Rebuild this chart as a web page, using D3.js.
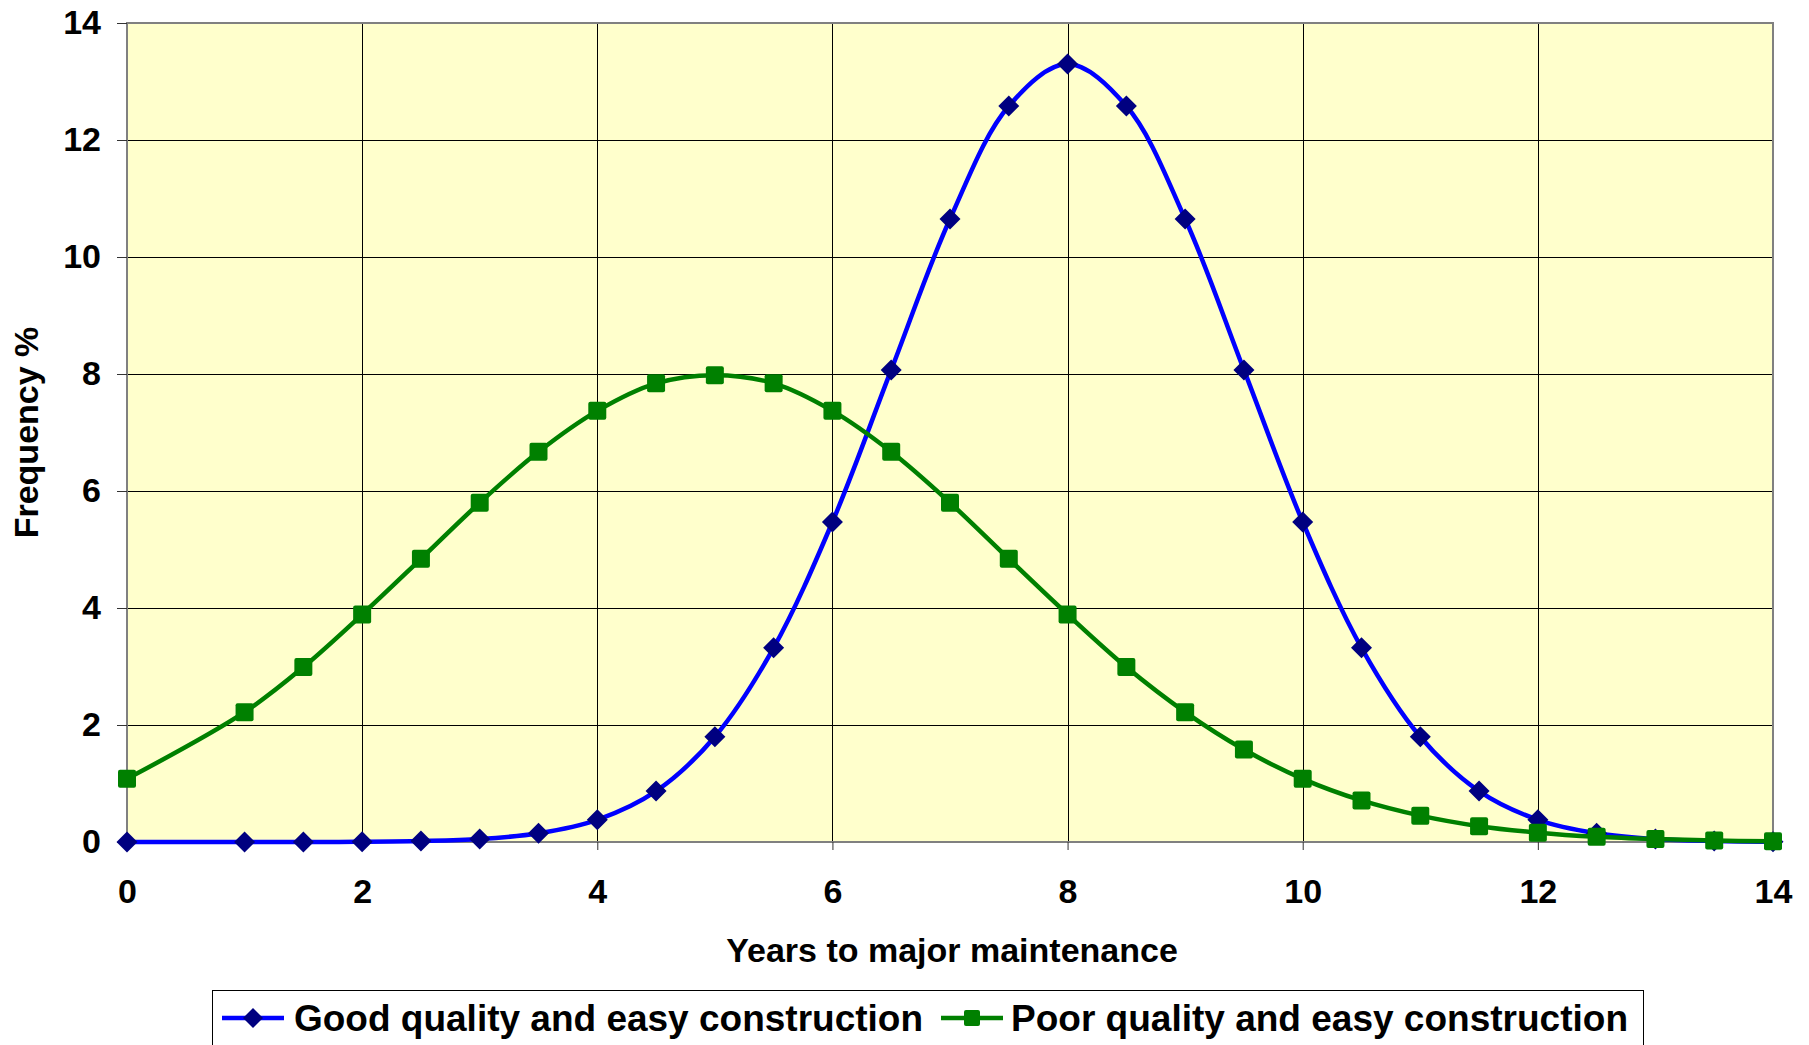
<!DOCTYPE html>
<html>
<head>
<meta charset="utf-8">
<script src="https://cdn.jsdelivr.net/npm/d3@7"></script>
<style>
  body { margin: 0; background: #fff; }
  svg { display: block; font-family: "Liberation Sans", Arial, sans-serif; font-weight: bold; }
</style>
</head>
<body>
<svg id="chart" width="1809" height="1045"></svg>
<script>
// Years to major maintenance (no point at 0.5)
const years = [0, 1, 1.5, 2, 2.5, 3, 3.5, 4, 4.5, 5, 5.5, 6, 6.5, 7, 7.5, 8,
  8.5, 9, 9.5, 10, 10.5, 11, 11.5, 12, 12.5, 13, 13.5, 14];

// Frequency %
const goodEasy = [0, 0.0002, 0.001, 0.004, 0.016, 0.05, 0.15, 0.38, 0.87, 1.80,
  3.32, 5.47, 8.07, 10.65, 12.58, 13.30, 12.58, 10.65, 8.07, 5.47,
  3.32, 1.80, 0.87, 0.38, 0.15, 0.05, 0.016, 0.004];
const poorEasy = [1.08, 2.22, 2.99, 3.89, 4.84, 5.80, 6.67, 7.37, 7.84, 7.98,
  7.84, 7.37, 6.67, 5.80, 4.84, 3.89, 2.99, 2.22, 1.58, 1.08,
  0.71, 0.45, 0.27, 0.16, 0.09, 0.05, 0.025, 0.012];

const xTicks = [0, 2, 4, 6, 8, 10, 12, 14];
const yTicks = [0, 2, 4, 6, 8, 10, 12, 14];

const seriesNames = ["Good quality and easy construction", "Poor quality and easy construction"];

const svg = d3.select("#chart");

// plot area
const plot = { left: 127, right: 1773, top: 23, bottom: 842 };

const x = d3.scaleLinear().domain([0, 14]).range([plot.left, plot.right]);
const y = d3.scaleLinear().domain([0, 14]).range([plot.bottom, plot.top]);

svg.append("rect")
  .attr("x", plot.left).attr("y", plot.top)
  .attr("width", plot.right - plot.left).attr("height", plot.bottom - plot.top)
  .attr("fill", "#ffffcc");

// gridlines
const grid = svg.append("g").attr("stroke", "#000").attr("stroke-width", 1);
grid.selectAll("line.h").data(yTicks.slice(1, -1)).join("line")
  .attr("class", "h")
  .attr("x1", plot.left).attr("x2", plot.right)
  .attr("y1", d => Math.round(y(d)) + 0.5).attr("y2", d => Math.round(y(d)) + 0.5);
grid.selectAll("line.v").data(xTicks.slice(1, -1)).join("line")
  .attr("class", "v")
  .attr("y1", plot.top).attr("y2", plot.bottom)
  .attr("x1", d => Math.round(x(d)) + 0.5).attr("x2", d => Math.round(x(d)) + 0.5);

// plot border
svg.append("rect")
  .attr("x", plot.left).attr("y", plot.top)
  .attr("width", plot.right - plot.left).attr("height", plot.bottom - plot.top)
  .attr("fill", "none").attr("stroke", "#808080").attr("stroke-width", 2);

// axes
const axisY = svg.append("g")
  .attr("transform", `translate(${plot.left},0)`)
  .call(d3.axisLeft(y).tickValues(yTicks).tickSize(10).tickPadding(16));
const axisX = svg.append("g")
  .attr("transform", `translate(0,${plot.bottom})`)
  .call(d3.axisBottom(x).tickValues(xTicks).tickSize(8).tickPadding(29));

[axisY, axisX].forEach(g => {
  g.select(".domain").remove();
  g.selectAll(".tick line").attr("stroke", "#333");
  g.selectAll(".tick text")
    .attr("fill", "#000")
    .style("font-size", "34px")
    .style("font-family", "'Liberation Sans', Arial, sans-serif")
    .style("font-weight", "bold");
});

// series
const line = d3.line()
  .x(d => x(d[0]))
  .y(d => y(d[1]))
  .curve(d3.curveCatmullRom.alpha(0.5));

const goodPts = years.map((d, i) => [d, goodEasy[i]]);
const poorPts = years.map((d, i) => [d, poorEasy[i]]);

const diamond = r => `M0,${-r}L${r},0L0,${r}L${-r},0Z`;

svg.append("path").datum(goodPts)
  .attr("d", line).attr("fill", "none")
  .attr("stroke", "#0000ff").attr("stroke-width", 4.5);
svg.append("g").selectAll("path").data(goodPts).join("path")
  .attr("transform", d => `translate(${x(d[0])},${y(d[1])})`)
  .attr("d", diamond(10.5))
  .attr("fill", "#000080");

svg.append("path").datum(poorPts)
  .attr("d", line).attr("fill", "none")
  .attr("stroke", "#008000").attr("stroke-width", 4.5);
svg.append("g").selectAll("rect").data(poorPts).join("rect")
  .attr("x", d => x(d[0]) - 9).attr("y", d => y(d[1]) - 9)
  .attr("width", 18).attr("height", 18).attr("rx", 2)
  .attr("fill", "#008000");

// axis titles
svg.append("text")
  .attr("x", 952).attr("y", 962)
  .attr("text-anchor", "middle")
  .style("font-size", "34px")
  .text("Years to major maintenance");

svg.append("text")
  .attr("transform", `translate(38,${(plot.top + plot.bottom) / 2}) rotate(-90)`)
  .attr("text-anchor", "middle")
  .style("font-size", "34px")
  .text("Frequency %");

// legend
const legend = svg.append("g");
legend.append("rect")
  .attr("x", 212.5).attr("y", 990.5).attr("width", 1431).attr("height", 80)
  .attr("fill", "#fff").attr("stroke", "#000").attr("stroke-width", 1);

const legendItems = [
  { name: seriesNames[0], x0: 222, color: "#0000ff", marker: "diamond", text: 294, width: 629 },
  { name: seriesNames[1], x0: 941, color: "#008000", marker: "square", text: 1011, width: 617 },
];
legendItems.forEach(it => {
  const g = legend.append("g");
  g.append("line")
    .attr("x1", it.x0).attr("x2", it.x0 + 62)
    .attr("y1", 1018).attr("y2", 1018)
    .attr("stroke", it.color).attr("stroke-width", 4.5);
  if (it.marker === "diamond") {
    g.append("path")
      .attr("transform", `translate(${it.x0 + 31},1018)`)
      .attr("d", diamond(10)).attr("fill", "#000080");
  } else {
    g.append("rect")
      .attr("x", it.x0 + 31 - 8).attr("y", 1018 - 8)
      .attr("width", 16).attr("height", 16).attr("rx", 2)
      .attr("fill", "#008000");
  }
  g.append("text")
    .attr("x", it.text).attr("y", 1031)
    .attr("textLength", it.width)
    .attr("lengthAdjust", "spacingAndGlyphs")
    .style("font-size", "36px")
    .text(it.name);
});
</script>
</body>
</html>
